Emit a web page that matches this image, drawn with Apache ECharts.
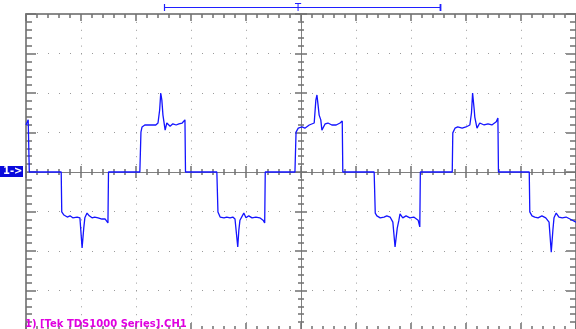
<!DOCTYPE html>
<html><head><meta charset="utf-8">
<script src="https://cdn.jsdelivr.net/npm/echarts@6/dist/echarts.min.js"></script>
<style>html,body{margin:0;padding:0;background:#fff}#c{width:576px;height:329px}</style>
</head><body><div id="c"></div>
<script>
// Horizontal position in divisions (-5..5), vertical in divisions (-4..4)
const leadIn = [[-5.00,1.19],[-4.96,1.32],[-4.95,1.37],[-4.94,0]];
const negPulse1 = [[-4.36,0],[-4.35,-1.01],[-4.31,-1.09],[-4.25,-1.14],[-4.20,-1.11],[-4.15,-1.16],[-4.07,-1.14],[-4.02,-1.16],[-3.98,-1.92],[-3.95,-1.42],[-3.93,-1.16],[-3.89,-1.04],[-3.85,-1.11],[-3.80,-1.16],[-3.75,-1.14],[-3.69,-1.16],[-3.62,-1.19],[-3.56,-1.19],[-3.51,-1.29],[-3.50,0]];
const posPulse1 = [[-2.93,0],[-2.91,1.01],[-2.89,1.14],[-2.84,1.19],[-2.78,1.19],[-2.75,1.16],[-2.69,1.19],[-2.64,1.19],[-2.60,1.24],[-2.57,1.57],[-2.55,2.00],[-2.53,1.82],[-2.51,1.44],[-2.47,1.06],[-2.44,1.24],[-2.38,1.16],[-2.33,1.22],[-2.27,1.19],[-2.22,1.22],[-2.16,1.24],[-2.11,1.32],[-2.10,0]];
const negPulse2 = [[-1.53,0],[-1.51,-1.01],[-1.47,-1.14],[-1.40,-1.16],[-1.35,-1.14],[-1.29,-1.16],[-1.24,-1.14],[-1.20,-1.19],[-1.15,-1.90],[-1.13,-1.47],[-1.11,-1.22],[-1.04,-1.04],[-1.00,-1.16],[-0.95,-1.11],[-0.89,-1.16],[-0.82,-1.14],[-0.75,-1.16],[-0.69,-1.22],[-0.66,-1.29],[-0.65,0]];
const posPulse2 = [[-0.11,0],[-0.09,1.01],[-0.05,1.11],[0.02,1.14],[0.07,1.11],[0.15,1.19],[0.24,1.24],[0.27,1.82],[0.29,1.95],[0.31,1.70],[0.33,1.44],[0.36,1.32],[0.38,1.06],[0.44,1.22],[0.49,1.24],[0.56,1.19],[0.64,1.19],[0.71,1.24],[0.75,1.29],[0.76,0]];
const negPulse3 = [[1.33,0],[1.35,-1.04],[1.38,-1.11],[1.44,-1.16],[1.51,-1.14],[1.56,-1.11],[1.62,-1.14],[1.67,-1.27],[1.71,-1.90],[1.75,-1.42],[1.78,-1.22],[1.80,-1.06],[1.85,-1.16],[1.91,-1.11],[1.98,-1.16],[2.05,-1.14],[2.13,-1.22],[2.16,-1.39],[2.17,0]];
const posPulse3 = [[2.75,0],[2.76,0.99],[2.80,1.11],[2.85,1.14],[2.93,1.11],[3.00,1.14],[3.07,1.19],[3.10,1.50],[3.12,2.00],[3.15,1.57],[3.16,1.39],[3.20,1.11],[3.25,1.24],[3.33,1.19],[3.40,1.22],[3.47,1.19],[3.55,1.27],[3.58,1.37],[3.59,0]];
const negPulse4 = [[4.15,0],[4.16,-1.01],[4.20,-1.11],[4.25,-1.14],[4.31,-1.16],[4.38,-1.11],[4.45,-1.16],[4.51,-1.27],[4.55,-2.03],[4.58,-1.47],[4.60,-1.16],[4.64,-1.04],[4.69,-1.14],[4.75,-1.16],[4.82,-1.14],[4.89,-1.19],[5.00,-1.27]];

const xRange = {min:-5, max:5, interval:1};
const yRange = {min:-4, max:4, interval:1};
const traceLabel = '1) [Tek TDS1000 Series].CH1';
const channelTag = '1->';
const triggerTag = 'T';

const trace = [].concat(leadIn, negPulse1, posPulse1, negPulse2, posPulse2, negPulse3, posPulse3, negPulse4);

const tickStyle = {color:'#707070', width:1.5};
function axis(range, extra, frame, inside, majorLen, minorLen, split) {
  return Object.assign({
    type:'value', min:range.min, max:range.max, interval:range.interval,
    axisLabel:{show:false},
    axisLine:{show:true, onZero:!frame, onZeroAxisIndex:0,
      lineStyle:{color: frame ? '#8a8a8a' : '#808080', width: frame ? 2 : 1}},
    axisTick:{show:true, inside:inside, length:majorLen, lineStyle:tickStyle},
    minorTick:{show:true, splitNumber:5, length:minorLen, lineStyle:tickStyle},
    splitLine:split ? {show:true, lineStyle:split} : {show:false},
    minorSplitLine:{show:false}
  }, extra);
}

const chart = echarts.init(document.getElementById('c'), null, {renderer:'canvas'});
chart.setOption({
  animation:false,
  backgroundColor:'#ffffff',
  grid:{left:26, top:14, width:550, height:316, outerBoundsMode:'none'},
  xAxis:[
    axis(xRange, {position:'top'}, true, true, 7, 4, {color:'#9a9a9a', width:1, type:[1,6.9]}),
    axis(xRange, {position:'bottom'}, true, true, 7, 4, null),
    axis(xRange, {position:'bottom'}, false, true, 6, 3, null),
    axis(xRange, {position:'bottom'}, false, false, 6, 3, null)
  ],
  yAxis:[
    axis(yRange, {position:'left'}, true, true, 10, 6, {color:'#9a9a9a', width:1, type:[1,10]}),
    axis(yRange, {position:'right'}, true, true, 10, 6, null),
    axis(yRange, {position:'left'}, false, true, 6, 3, null),
    axis(yRange, {position:'left'}, false, false, 6, 3, null)
  ],
  series:[{
    type:'line', xAxisIndex:0, yAxisIndex:0, data:trace,
    showSymbol:false, symbol:'none',
    lineStyle:{color:'#1414ff', width:1.3}, z:5
  }],
  graphic:[
    {type:'rect', left:0, top:166, shape:{width:23, height:11}, style:{fill:'#0a0adc'}, z:10},
    {type:'text', left:3, top:166, style:{text:channelTag, fill:'#ffffff', font:'bold 10px "DejaVu Sans", sans-serif'}, z:11},
    {type:'line', shape:{x1:164, y1:7.5, x2:441, y2:7.5}, style:{stroke:'#2020ff', lineWidth:1.2}, z:10},
    {type:'line', shape:{x1:164.5, y1:4, x2:164.5, y2:11}, style:{stroke:'#2020ff', lineWidth:1.2}, z:10},
    {type:'line', shape:{x1:440.5, y1:4, x2:440.5, y2:11}, style:{stroke:'#2020ff', lineWidth:1.8}, z:10},
    {type:'text', x:298, y:8, style:{text:triggerTag, fill:'#2020ff', align:'center', verticalAlign:'middle', font:'10px "DejaVu Sans", sans-serif'}, z:11},
    {type:'text', x:25, y:324, style:{text:traceLabel, fill:'#e000e0', verticalAlign:'middle', font:'bold 10px "DejaVu Sans", sans-serif'}, z:11}
  ]
});
</script>
</body></html>
